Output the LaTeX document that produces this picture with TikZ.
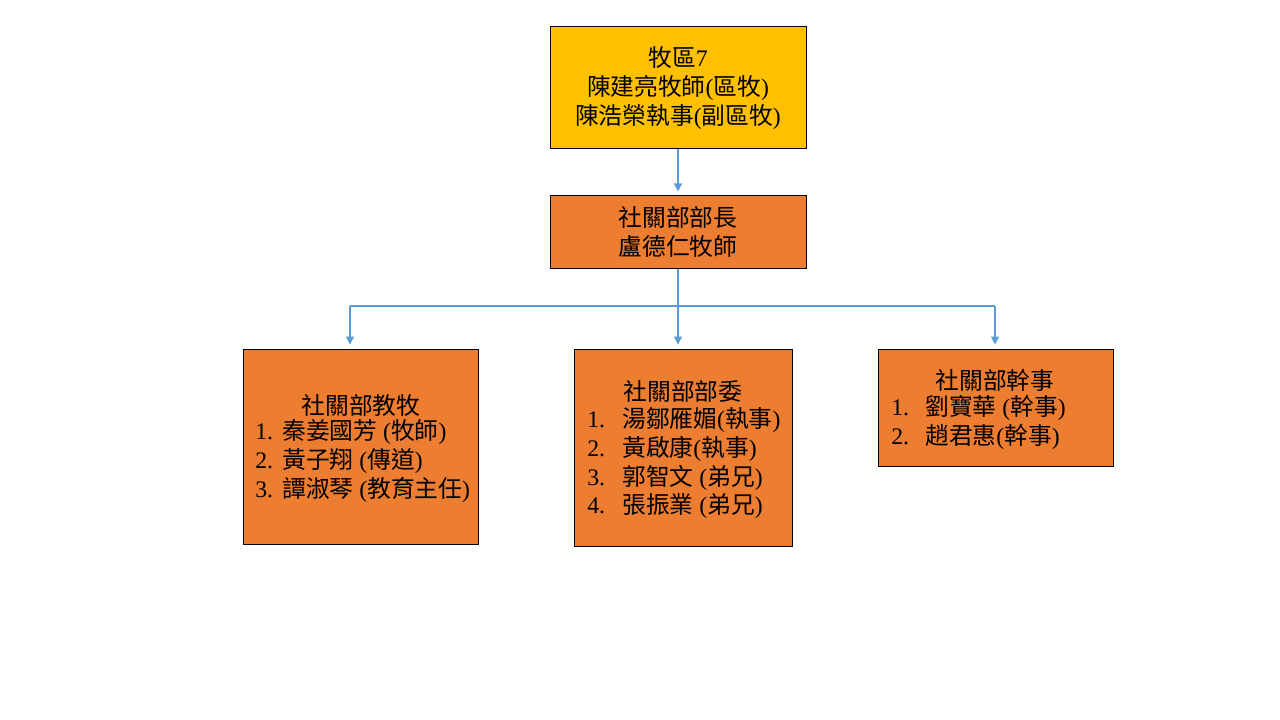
\documentclass[tikz,border=0pt]{standalone}
\usepackage{fontspec}
\setmainfont{Liberation Serif}
\newfontfamily\cjk{Noto Sans CJK TC}
\usetikzlibrary{arrows.meta}
\definecolor{goldfill}{HTML}{FFC000}
\definecolor{orngfill}{HTML}{ED7D31}
\definecolor{connblue}{HTML}{5B9BD5}
\newcommand\zh[1]{{\cjk #1}}
\begin{document}
\begin{tikzpicture}[x=0.75pt,y=-0.75pt,
  box/.style={draw=black, line width=0.75pt, inner sep=0pt},
  lbl/.style={font=\fontsize{17.8}{21.5}\selectfont, inner sep=0pt, text=black},
  conn/.style={draw=connblue, line width=0.9pt},
  arr/.style={conn, -{Triangle[length=6pt,width=6pt]}, shorten >=3pt}]
\path[fill=white, use as bounding box] (0,0) rectangle (1280,720);
% boxes
\node[box, fill=goldfill, minimum width=192pt, minimum height=91.5pt, align=center, lbl] (top) at (678,88)
  {\zh{牧區}7\\\zh{陳建亮牧師}(\zh{區牧})\\\zh{陳浩榮執事}(\zh{副區牧})};
\node[box, fill=orngfill, minimum width=192pt, minimum height=54pt, align=center, lbl] (head) at (678,232)
  {\zh{社關部部長}\\\zh{盧德仁牧師}};
\node[box, fill=orngfill, minimum width=176.25pt, minimum height=146.25pt] (left) at (360.5,446.5) {};
\node[box, fill=orngfill, minimum width=163.5pt, minimum height=147.75pt] (mid) at (683,447.5) {};
\node[box, fill=orngfill, minimum width=176.25pt, minimum height=87.75pt] (right) at (995.5,407.5) {};
% texts
\node[lbl] (lefttitle) at (361,405) {\zh{社關部教牧}};
\node[lbl, anchor=west] (leftlist) at (255,463) {\begin{tabular}{@{}p{20.25pt}@{}l@{}}
1.&\zh{秦姜國芳} (\zh{牧師})\\
2.&\zh{黃子翔} (\zh{傳道})\\
3.&\zh{譚淑琴} (\zh{教育主任})
\end{tabular}};
\node[lbl] (midtitle) at (683,391) {\zh{社關部部委}};
\node[lbl, anchor=west] (midlist) at (587,465) {\begin{tabular}{@{}p{26.25pt}@{}l@{}}
1.&\zh{湯鄒雁媚}(\zh{執事})\\
2.&\zh{黃啟康}(\zh{執事})\\
3.&\zh{郭智文} (\zh{弟兄})\\
4.&\zh{張振業} (\zh{弟兄})
\end{tabular}};
\node[lbl] (righttitle) at (995,380) {\zh{社關部幹事}};
\node[lbl, anchor=west] (rightlist) at (891,424.5) {\begin{tabular}{@{}p{25.5pt}@{}l@{}}
1.&\zh{劉寶華} (\zh{幹事})\\
2.&\zh{趙君惠}(\zh{幹事})
\end{tabular}};
% connectors
\coordinate (jl) at (350,306);
\coordinate (jr) at (995,306);
\draw[arr] (top.south) -- (head.north);
\draw[arr] (head.south) -- (head.south |- mid.north);
\draw[conn] (jl) -- (jr);
\draw[arr] (jl) -- (jl |- left.north);
\draw[arr] (jr) -- (jr |- right.north);
\end{tikzpicture}
\end{document}
